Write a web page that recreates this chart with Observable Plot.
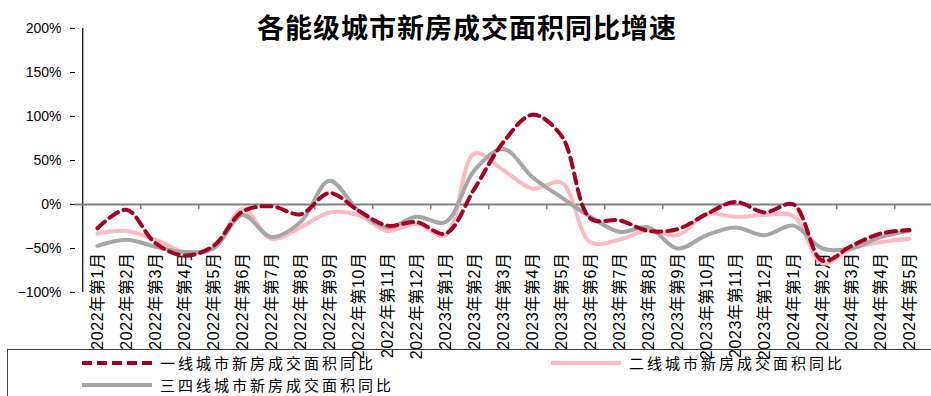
<!DOCTYPE html>
<html>
<head>
<meta charset="utf-8">
<script src="https://cdn.jsdelivr.net/npm/d3@7"></script>
<script src="https://cdn.jsdelivr.net/npm/@observablehq/plot@0.6"></script>
<style>
  html, body { margin: 0; padding: 0; background: #fff; }
  #wrap { position: relative; width: 931px; height: 396px; overflow: hidden; font-family: "Liberation Sans", Arial, "Noto Sans CJK SC", sans-serif; }
  #title { position: absolute; left: 0; top: 11px; width: 934px; text-align: center; font-family: "Noto Sans CJK SC", sans-serif; font-weight: 700; font-size: 27px; line-height: 32px; color: #000; letter-spacing: 1px; }
  #legend { position: absolute; left: 7px; top: 349px; width: 924px; height: 47px; border-top: 1px solid #404040; border-left: 1px solid #404040; box-sizing: border-box; font-family: "Noto Sans CJK SC", sans-serif; font-size: 15px; color: #000; }
  .item { position: absolute; display: flex; align-items: center; height: 18px; line-height: 18px; }
  .item svg { margin-right: 8px; }
  .item span { letter-spacing: 3px; }
</style>
</head>
<body>
<div id="wrap">
  <div id="chart"></div>
  <div id="title"></div>
  <div id="legend"></div>
</div>
<script>
const titleText = "各能级城市新房成交面积同比增速";
const seriesNames = ["一线城市新房成交面积同比", "二线城市新房成交面积同比", "三四线城市新房成交面积同比"];
const seriesColors = ["#A50021", "#FFB9C4", "#A6A6A6"];

const categories = [
  "2022年第1月","2022年第2月","2022年第3月","2022年第4月","2022年第5月","2022年第6月",
  "2022年第7月","2022年第8月","2022年第9月","2022年第10月","2022年第11月","2022年第12月",
  "2023年第1月","2023年第2月","2023年第3月","2023年第4月","2023年第5月","2023年第6月",
  "2023年第7月","2023年第8月","2023年第9月","2023年第10月","2023年第11月","2023年第12月",
  "2024年第1月","2024年第2月","2024年第3月","2024年第4月","2024年第5月"
];
// values in %
const tier1 = [-27, -6, -44, -58, -47, -8, -2, -11, 13, -7, -24, -20, -33, 18, 71, 102, 78, -16, -18, -30, -28, -11, 3, -9, 0, -64, -47, -33, -29];
const tier2 = [-33, -30, -40, -54, -50, -5, -39, -26, -9, -12, -30, -22, -35, 58, 39, 18, 25, -43, -40, -29, -35, -11, -14, -12, -13, -67, -50, -43, -39];
const tier3 = [-47, -40, -48, -54, -50, -12, -37, -20, 27, -7, -26, -14, -20, 39, 63, 31, 8, -14, -31, -26, -50, -35, -26, -35, -24, -50, -50, -37, -30];
const yTicks = [-100, -50, 0, 50, 100, 150, 200];

const W = 931, H = 396, ML = 75, MR = 0, MT = 28, MB = 104;
const step = (W - ML - MR) / categories.length;
const fmt = d => (d < 0 ? "\u2212" : "") + Math.abs(d) + "%";
const rows = s => categories.map((c, i) => ({cat: c, v: s[i]}));
const tickCats = categories.filter((c, i) => i > 0 && i % 2 === 0);

const chart = Plot.plot({
  width: W, height: H,
  marginLeft: ML, marginRight: MR, marginTop: MT, marginBottom: MB,
  style: {fontFamily: '"Liberation Sans", Arial, "Noto Sans CJK SC", sans-serif', background: "transparent", overflow: "visible"},
  x: {type: "point", domain: categories, padding: 0.5, axis: null},
  y: {domain: [-100, 200], axis: null},
  marks: [
    Plot.axisY({ticks: yTicks, tickFormat: fmt, tickSize: 5, tickPadding: 9, fontSize: 14, stroke: "#000", fill: "#000", label: null}),
    Plot.ruleX([categories[0]], {dx: -step / 2, y1: -100, y2: 200, stroke: "#000", strokeWidth: 1.2}),
    Plot.axisX({anchor: "bottom", tickSize: 0, tickPadding: 0, tickRotate: -90, dy: -40, fontSize: 16, fill: "#000", label: null}),
    Plot.ruleY([0], {stroke: "#808080", strokeWidth: 2}),
    Plot.ruleX(tickCats, {x: d => d, dx: -step / 2, y1: 0, y2: -6, stroke: "#808080", strokeWidth: 1.5}),
    Plot.lineY(rows(tier2), {x: "cat", y: "v", stroke: seriesColors[1], strokeWidth: 4, curve: "catmull-rom"}),
    Plot.lineY(rows(tier3), {x: "cat", y: "v", stroke: seriesColors[2], strokeWidth: 4, curve: "catmull-rom"}),
    Plot.lineY(rows(tier1), {x: "cat", y: "v", stroke: seriesColors[0], strokeWidth: 4, strokeDasharray: "10,6", curve: "catmull-rom"})
  ]
});
d3.select(chart).selectAll('g[aria-label="x-axis tick label"]').attr("letter-spacing", "0.6px");
document.getElementById("chart").appendChild(chart);
document.getElementById("title").textContent = titleText;

// legend
const legend = document.getElementById("legend");
const pos = [{left: 74, top: 4}, {left: 543, top: 4}, {left: 74, top: 26}];
seriesNames.forEach((name, i) => {
  const div = document.createElement("div");
  div.className = "item";
  div.style.left = pos[i].left + "px";
  div.style.top = pos[i].top + "px";
  const dash = i === 0 ? 'stroke-dasharray="10,5"' : "";
  div.innerHTML = `<svg width="70" height="8"><line x1="0" y1="4" x2="70" y2="4" stroke="${seriesColors[i]}" stroke-width="4" ${dash}/></svg><span>${name}</span>`;
  legend.appendChild(div);
});
</script>
</body>
</html>
